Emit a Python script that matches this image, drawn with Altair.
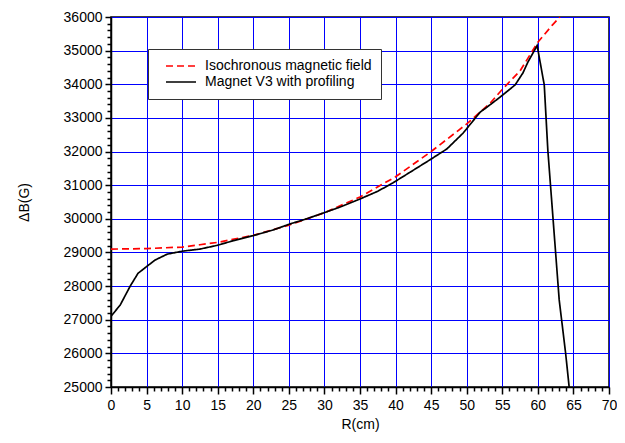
import altair as alt
import pandas as pd

iso_r = [0, 5, 10, 12.5, 15, 20, 25, 30, 35, 40, 45, 50, 53.3, 55, 57.5, 60, 62, 63.1]
iso_b = [29100, 29115, 29160, 29230, 29300, 29510, 29810, 30180, 30650, 31250, 32000, 32820,
         33440, 33850, 34400, 35250, 35750, 36000]

mag_r = [0, 1.3, 2.7, 3.8, 5.0, 6.2, 7.9, 10.1, 12.5, 14.9, 17.2, 20, 22.8, 25.2, 27.5, 29.8,
         32.2, 35, 37.5, 39.6, 42, 44.8, 47.2, 49.5, 51.9, 52.6, 54.7, 56.8, 57.9, 58.6, 59.9,
         60.9, 61.4, 63.0, 63.9, 64.4]
mag_b = [27100, 27440, 28000, 28380, 28580, 28775, 28950, 29040, 29100, 29210, 29350, 29500,
         29670, 29850, 30000, 30170, 30350, 30590, 30820, 31065, 31380, 31750, 32075, 32550,
         33175, 33280, 33620, 33980, 34335, 34660, 35150, 33980, 32050, 27590, 26010, 25000]

names = ["Isochronous magnetic field", "Magnet V3 with profiling"]

df = pd.concat([
    pd.DataFrame({"R": iso_r, "B": iso_b, "series": names[0], "order": range(len(iso_r))}),
    pd.DataFrame({"R": mag_r, "B": mag_b, "series": names[1], "order": range(len(mag_r))}),
])

x_ticks = list(range(0, 71))
y_ticks = list(range(25000, 36001, 200))

font = "Liberation Sans"

chart = alt.Chart(df).mark_line(strokeWidth=1.7, clip=True).encode(
    x=alt.X("R:Q", scale=alt.Scale(domain=[0, 70], nice=False, zero=False),
            axis=alt.Axis(values=x_ticks, title="R(cm)",
                          labelExpr="datum.value % 5 === 0 ? datum.label : ''",
                          tickSize={"condition": {"test": "datum.value % 5 === 0", "value": 7}, "value": 4},
                          gridOpacity={"condition": {"test": "datum.value % 5 === 0", "value": 1}, "value": 0},
                          labelPadding=4, titlePadding=5)),
    y=alt.Y("B:Q", scale=alt.Scale(domain=[25000, 36000], nice=False, zero=False),
            axis=alt.Axis(values=y_ticks, title="ΔB(G)", format="d",
                          labelExpr="datum.value % 1000 === 0 ? datum.label : ''",
                          tickSize={"condition": {"test": "datum.value % 1000 === 0", "value": 6}, "value": 4},
                          gridOpacity={"condition": {"test": "datum.value % 1000 === 0", "value": 1}, "value": 0},
                          labelPadding=3, titlePadding=32)),
    color=alt.Color("series:N", scale=alt.Scale(domain=names, range=["#ff0000", "#000000"]),
                    legend=alt.Legend(title=None, orient="none", legendX=37, legendY=32)),
    strokeDash=alt.StrokeDash("series:N", scale=alt.Scale(domain=names, range=[[7, 4], [1, 0]]),
                              legend=alt.Legend(title=None, orient="none", legendX=37, legendY=32)),
    order="order:Q",
).properties(
    width=498, height=370,
    autosize=alt.AutoSizeParams(type="none"),
    padding={"left": 103, "top": 9, "right": 8, "bottom": 48},
).configure_view(
    stroke="black", strokeWidth=1.5
).configure_axis(
    grid=True, gridColor="#0000ff", gridWidth=1,
    domainColor="black", domainWidth=1.5, tickColor="black", tickWidth=1.5,
    labelFont=font, titleFont=font, labelFontSize=14, titleFontSize=14,
    labelColor="black", titleColor="black", titleFontWeight="normal",
    labelOverlap=False, labelFlush=False,
).configure_legend(
    fillColor="white", strokeColor="#333333", padding=9,
    symbolType="stroke", symbolSize=900, symbolStrokeWidth=1.7,
    symbolOffset=8, clipHeight=16,
    labelFont=font, labelFontSize=14, labelColor="black", labelLimit=400,
    rowPadding=0, labelOffset=8,
)

chart.save("out.html", embed_options={"renderer": "svg", "actions": False})
